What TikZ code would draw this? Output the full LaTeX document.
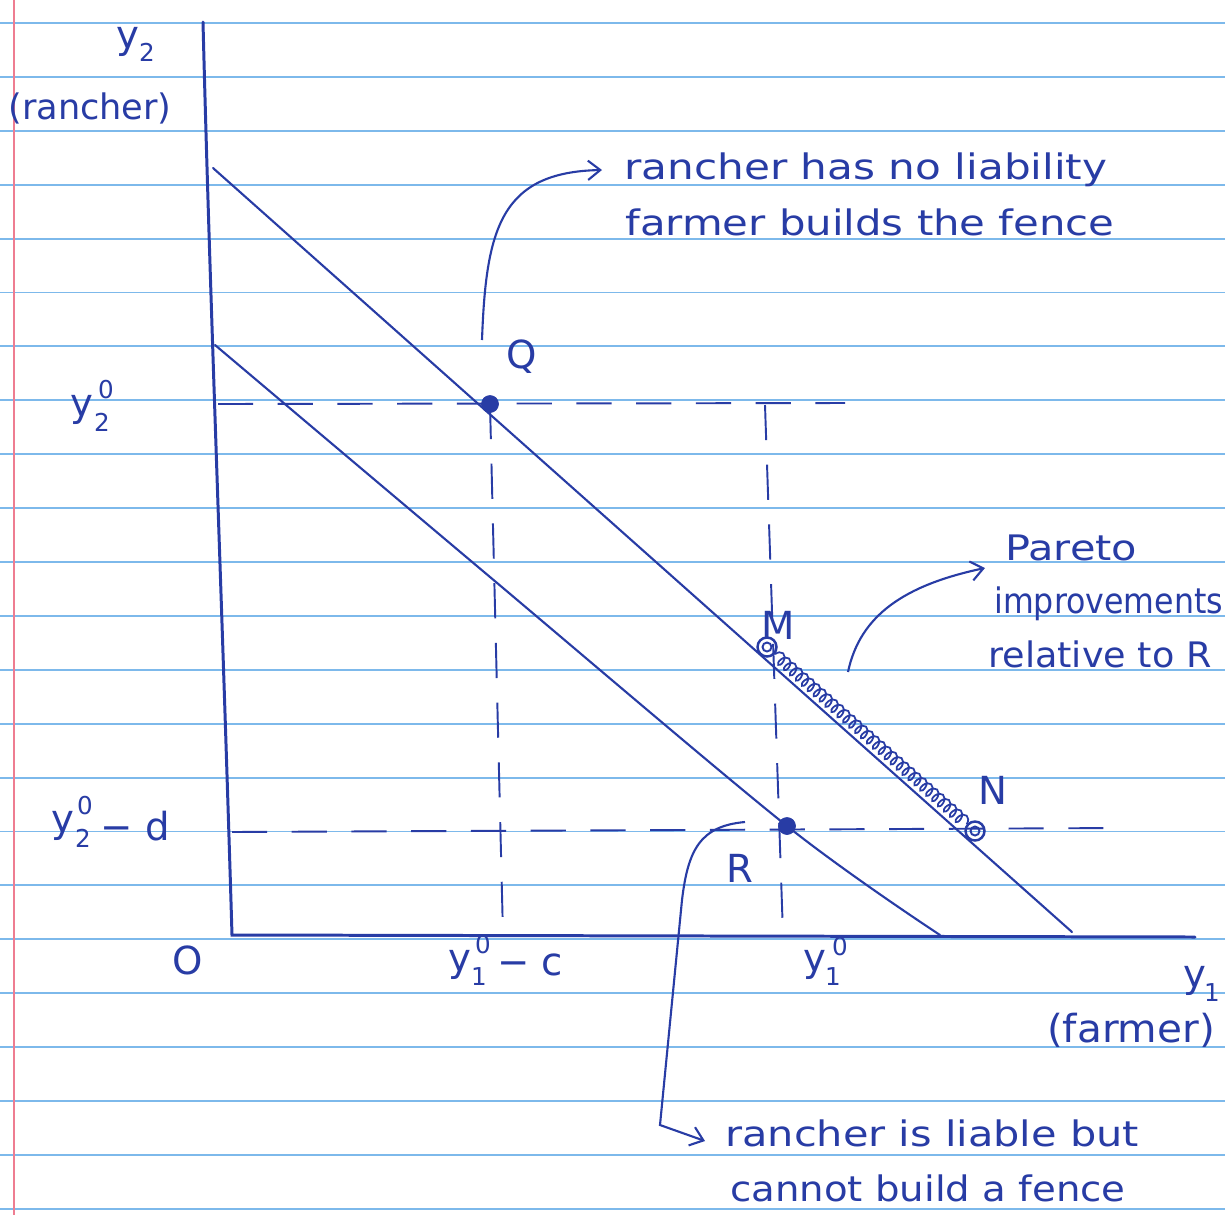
\documentclass[tikz,border=0pt]{standalone}
\usepackage{fontspec}
\setmainfont{DejaVu Sans}
\usetikzlibrary{arrows.meta,decorations.pathmorphing}
\definecolor{pen}{RGB}{40,60,165}
\definecolor{rule}{RGB}{125,185,235}
\definecolor{margin}{RGB}{238,125,145}
\newcommand{\hx}[2]{\scalebox{#1}[1]{#2}}
\tikzset{
  paperline/.style={rule, line width=1.1pt},
  axisline/.style={pen, line width=1.7pt, line cap=round},
  budget/.style={pen, line width=1.2pt, line cap=round},
  guide/.style={pen, line width=1.1pt, dash pattern=on 20pt off 14pt},
  dotfill/.style={circle, fill=pen, draw=pen, inner sep=0pt, minimum size=0.34cm},
  dotopen/.style={circle, draw=pen, line width=1.4pt, inner sep=0pt, minimum size=0.38cm,
     path picture={\draw[pen, line width=1.1pt] (path picture bounding box.center) circle (0.09cm);}},
  lbl/.style={text=pen, font=\fontsize{22}{26}\selectfont, inner sep=0pt},
  scr/.style={text=pen, font=\fontsize{14}{16}\selectfont, inner sep=0pt},
  note/.style={text=pen, font=\fontsize{20}{24}\selectfont, inner sep=0pt, anchor=west},
  pointer/.style={pen, line width=1.2pt, -{Straight Barb[length=7pt,width=11pt]}},
}
\begin{document}
\begin{tikzpicture}[x=0.02cm,y=-0.02cm]
\useasboundingbox (0,0) rectangle (1225,1215);
\fill[white] (0,0) rectangle (1225,1215);
% lined paper
\foreach \k in {0,...,22} {\draw[paperline] (0,{23+53.9*\k}) -- (1225,{23+53.9*\k});}
\draw[margin, line width=1pt] (14,0) -- (14,1215);

% axes
\coordinate (ytop) at (203,22);
\coordinate (O) at (232,935);
\coordinate (xend) at (1195,937);
\draw[axisline] (ytop) .. controls (210,300) and (222,600) .. (O) -- (xend);

% budget lines
\coordinate (U1) at (213,168);
\coordinate (U2) at (1072,932);
\draw[budget] (U1) -- (U2);
\draw[budget] plot[smooth, tension=0.5] coordinates {(215,345) (490,577) (787,826) (940,935)};

% guide lines
\coordinate (hq0) at (218,404);
\coordinate (hq1) at (845,403);
\coordinate (hr0) at (232,832);
\coordinate (hr1) at (1125,828);
\coordinate (vq1) at (503,935);
\coordinate (vm0) at (765,405);
\coordinate (vm1) at (783,935);
\draw[guide] (hq0) -- (hq1);
\draw[guide] (hr0) -- (hr1);
\draw[guide] (490,404) -- (vq1);
\draw[guide] (vm0) -- (vm1);

% points
\node[dotfill] (Q) at (490,404) {};
\node[dotopen] (M) at (767,647) {};
\node[dotfill] (R) at (787,826) {};
\node[dotopen] (N) at (975,831) {};
\draw[pen, line width=1pt, decorate, decoration={coil, aspect=0.6, segment length=4.5pt, amplitude=3.4pt}] (M) -- (N);

% point labels
\node[lbl] (Qlab) at (522,357) {Q};
\node[lbl] (Mlab) at (778,625) {M};
\node[lbl] (Nlab) at (993,790) {N};
\node[lbl] (Rlab) at (740,868) {R};

% axis labels
\node[lbl] (y2lab) at (128,42) {y};
\node[scr] (y2sub) at (147,52) {2};
\node[lbl] (rancherlab) at (90,108) {\fontsize{20}{24}\selectfont (rancher)};

\node[lbl] (y20y) at (82,410) {y};
\node[scr] (y20sub) at (102,422) {2};
\node[scr] (y20sup) at (106,390) {0};

\node[lbl] (y20dy) at (63,826) {y};
\node[scr] (y20dsub) at (83,838) {2};
\node[scr] (y20dsup) at (85,806) {0};
\node[lbl] (y20drest) at (135,826) {− d};

\node[lbl] (Olab) at (188,960) {O};

\node[lbl] (y10cy) at (460,965) {y};
\node[scr] (y10csub) at (479,977) {1};
\node[scr] (y10csup) at (483,945) {0};
\node[lbl] (y10crest) at (530,965) {− c};

\node[lbl] (y10y) at (815,965) {y};
\node[scr] (y10sub) at (833,977) {1};
\node[scr] (y10sup) at (840,947) {0};

\node[lbl] (y1lab) at (1195,981) {y};
\node[scr] (y1sub) at (1212,993) {1};
\node[lbl] (farmerlab) at (1131,1030) {\hx{1.05}{(farmer)}};

% annotations
\node[note] (t1a) at (624,170) {\hx{1.2}{rancher has no liability}};
\node[note] (t1b) at (625,222) {\hx{1.19}{farmer builds the fence}};
\coordinate (q1) at (482,340);
\draw[pointer] (q1) .. controls (486,230) and (500,172) .. ([xshift=-22*0.02cm]t1a.west);

\node[note] (t2a) at (1005,548) {\hx{1.18}{Pareto}};
\node[note] (t2b) at (994,604) {\hx{0.9}{improvements}};
\node[note] (t2c) at (988,654) {\hx{1.04}{relative to R}};
\coordinate (p1) at (848,672);
\draw[pointer] (p1) .. controls (860,615) and (905,585) .. ([xshift=-20*0.02cm,yshift=-20*0.02cm]t2a.west);

\node[note] (t3a) at (725,1133) {\hx{1.18}{rancher is liable but}};
\node[note] (t3b) at (730,1188) {\hx{1.1}{cannot build a fence}};
\coordinate (r1) at (745,822);
\coordinate (r2) at (660,1125);
\draw[pointer] (r1) .. controls (700,826) and (688,850) .. (682,900) -- (r2) -- ([xshift=-20*0.02cm,yshift=-8*0.02cm]t3a.west);
\end{tikzpicture}
\end{document}
